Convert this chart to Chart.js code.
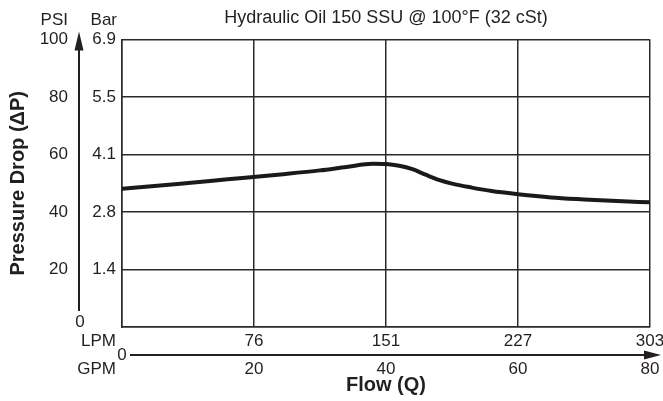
<!DOCTYPE html>
<html>
<head>
<meta charset="utf-8">
<script src="https://cdn.jsdelivr.net/npm/chart.js@4.4.1/dist/chart.umd.min.js"></script>
<style>
  body { margin: 0; background: #fff; }
  #wrap { width: 663px; height: 401px; }
</style>
</head>
<body>
<div id="wrap"><canvas id="flow-chart" width="663" height="401"></canvas></div>
<script>
// flow in GPM vs pressure drop in PSI
let flowGpm = [0, 8, 16, 24, 30, 34, 38, 40, 42, 44, 46, 48, 50, 53, 56, 60, 65, 70, 75, 80];
let dropPsi = [48.1, 49.7, 51.4, 53.1, 54.5, 55.7, 56.8, 56.7, 56.1, 54.9, 53.0, 51.2, 49.9, 48.5, 47.3, 46.2, 45.1, 44.4, 43.8, 43.4];

let lpmLabels = ['', '76', '151', '227', '303'];
let gpmLabels = ['', '20', '40', '60', '80'];
let psiLabels = ['', '20', '40', '60', '80', '100'];
let barLabels = ['', '1.4', '2.8', '4.1', '5.5', '6.9'];

let ink = '#231f20';
let grid = '#2b2b2b';
let fam = '"Liberation Sans", Arial, Helvetica, sans-serif';

let noPad = function (s) {
    s.paddingLeft = 0; s.paddingRight = 0;
    s.paddingTop = 0; s.paddingBottom = 0;
};

let decor = {
    id: 'decor',
    afterDraw: function (chart) {
        let ctx = chart.ctx,
            ys = chart.scales.y,
            yb = chart.scales.y2,
            xs = chart.scales.x,
            xg = chart.scales.x2;
        ctx.save();
        ctx.fillStyle = ink;
        ctx.strokeStyle = ink;
        ctx.font = '17px ' + fam;
        ctx.textBaseline = 'middle';

        // unit headers
        ctx.textAlign = 'right';
        ctx.fillText('PSI', ys.right - 24, 20);
        ctx.fillText('Bar', yb.right - 5, 20);

        // vertical arrow
        let ax = ys.right - 13;
        ctx.lineWidth = 2;
        ctx.beginPath();
        ctx.moveTo(ax, ys.getPixelForValue(0) - 16);
        ctx.lineTo(ax, ys.top - 2);
        ctx.stroke();
        ctx.beginPath();
        ctx.moveTo(ax, ys.top - 8);
        ctx.lineTo(ax - 4.5, ys.top + 11);
        ctx.lineTo(ax + 4.5, ys.top + 11);
        ctx.closePath();
        ctx.fill();
        ctx.textAlign = 'center';
        ctx.fillText('0', ax + 1, ys.getPixelForValue(0) - 5);

        // horizontal arrow
        let ay = xg.top;
        ctx.beginPath();
        ctx.moveTo(xs.left + 8, ay);
        ctx.lineTo(chart.width - 10, ay);
        ctx.stroke();
        ctx.beginPath();
        ctx.moveTo(chart.width - 2, ay);
        ctx.lineTo(chart.width - 19, ay - 4.5);
        ctx.lineTo(chart.width - 19, ay + 4.5);
        ctx.closePath();
        ctx.fill();
        ctx.fillText('0', xs.left, ay);

        ctx.textAlign = 'right';
        ctx.fillText('LPM', xs.left - 6, xs.top + 14);
        ctx.fillText('GPM', xs.left - 6, xg.top + 14);
        ctx.restore();
    }
};

window.onload = function () {
    let ctx = document.getElementById('flow-chart').getContext('2d');
    let points = flowGpm.map(function (g, i) { return {x: g, y: dropPsi[i]}; });
    new Chart(ctx, {
        type: 'line',
        data: {
            datasets: [{
                data: points,
                borderColor: '#1a1a1a',
                borderWidth: 4,
                pointRadius: 0,
                cubicInterpolationMode: 'monotone',
                fill: false
            }]
        },
        plugins: [decor],
        options: {
            responsive: false,
            animation: false,
            layout: { padding: { left: 0, right: 13, top: 0, bottom: 0 } },
            plugins: {
                legend: { display: false },
                tooltip: { enabled: false },
                title: {
                    display: true,
                    fullSize: false,
                    text: 'Hydraulic Oil 150 SSU @ 100°F (32 cSt)',
                    color: ink,
                    font: { family: fam, size: 18, weight: 'normal' },
                    padding: { top: 7, bottom: 11 }
                }
            },
            scales: {
                x: {
                    type: 'linear', position: 'bottom', weight: 0,
                    min: 0, max: 80,
                    afterFit: function (s) { s.height = 28; noPad(s); },
                    afterBuildTicks: function (s) { s.ticks = [0, 20, 40, 60, 80].map(function (v) { return {value: v}; }); },
                    ticks: {
                        color: ink, padding: 4, maxRotation: 0,
                        font: { family: fam, size: 17 },
                        callback: function (v, i) { return lpmLabels[i]; }
                    },
                    grid: { color: grid, lineWidth: 1.5, drawTicks: false },
                    border: { display: true, color: grid, width: 1.5 }
                },
                x2: {
                    type: 'linear', position: 'bottom', weight: 1,
                    min: 0, max: 80,
                    afterFit: function (s) { s.height = 46; noPad(s); },
                    afterBuildTicks: function (s) { s.ticks = [0, 20, 40, 60, 80].map(function (v) { return {value: v}; }); },
                    ticks: {
                        color: ink, padding: 4, maxRotation: 0,
                        font: { family: fam, size: 17 },
                        callback: function (v, i) { return gpmLabels[i]; }
                    },
                    grid: { display: false, drawTicks: false },
                    border: { display: false },
                    title: {
                        display: true, text: 'Flow (Q)', color: ink,
                        font: { family: fam, size: 20, weight: 'bold' },
                        padding: { top: 0, bottom: 4 }
                    }
                },
                y2: {
                    type: 'linear', position: 'left', weight: 0,
                    min: 0, max: 100,
                    afterFit: function (s) { s.width = 30; noPad(s); },
                    afterBuildTicks: function (s) { s.ticks = [0, 20, 40, 60, 80, 100].map(function (v) { return {value: v}; }); },
                    ticks: {
                        color: ink, padding: 6,
                        font: { family: fam, size: 17 },
                        callback: function (v, i) { return barLabels[i]; }
                    },
                    grid: { display: false, drawTicks: false },
                    border: { display: true, color: grid, width: 1.5 }
                },
                y: {
                    type: 'linear', position: 'left', weight: 1,
                    min: 0, max: 100,
                    afterFit: function (s) { s.width = 92; noPad(s); },
                    afterBuildTicks: function (s) { s.ticks = [0, 20, 40, 60, 80, 100].map(function (v) { return {value: v}; }); },
                    ticks: {
                        color: ink, padding: 24,
                        font: { family: fam, size: 17 },
                        callback: function (v, i) { return psiLabels[i]; }
                    },
                    grid: { color: grid, lineWidth: 1.5, drawTicks: false },
                    border: { display: false },
                    title: {
                        display: true, text: 'Pressure Drop (ΔP)', color: ink,
                        font: { family: fam, size: 20, weight: 'bold' },
                        padding: { top: 6, bottom: 0 }
                    }
                }
            }
        }
    });
};
</script>
</body>
</html>
